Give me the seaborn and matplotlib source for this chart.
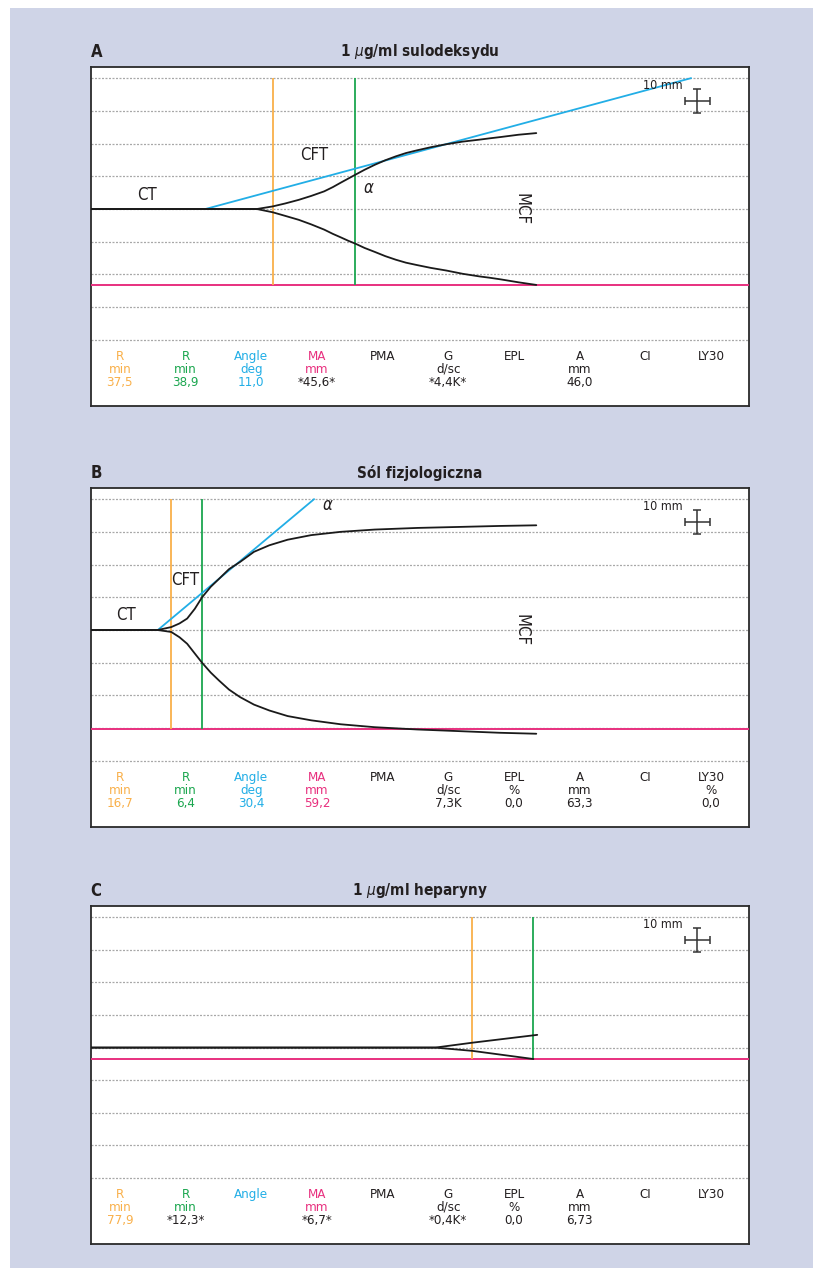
import numpy as np
import matplotlib
matplotlib.use("Agg")
import matplotlib.pyplot as plt
import seaborn as sns
from matplotlib.patches import Rectangle

sns.set_style("white")
plt.rcParams['font.family'] = ['DejaVu Sans']
plt.rcParams['font.stretch'] = 'condensed'

# ---- data (time in min, amplitude in mm) ----
titles = ["1 $\\mu$g/ml sulodeksydu", "Sól fizjologiczna", "1 $\\mu$g/ml heparyny"]
letters = ["A", "B", "C"]

# upper / lower trace branches
a_up_t = [0, 34.6, 37.9, 40.5, 43.3, 45.9, 48.6, 50.4, 52.1, 53.6, 55.1, 57.0, 59.1,
          61.3, 63.5, 65.6, 67.8, 70.8, 74.0, 77.4, 80.9, 83.0, 85.3, 89.0, 92.7]
a_up_y = [0, 0, 0.8, 1.7, 2.8, 4.0, 5.4, 6.7, 8.1, 9.3, 10.5, 12.0, 13.5,
          14.9, 16.1, 17.1, 17.9, 18.9, 19.8, 20.6, 21.2, 21.6, 22.0, 22.7, 23.2]
a_lo_t = a_up_t
a_lo_y = [0, 0, -1.0, -2.1, -3.3, -4.7, -6.3, -7.6, -8.7, -9.7, -10.6, -11.9, -13.1,
          -14.4, -15.5, -16.4, -17.1, -18.0, -18.8, -19.8, -20.6, -21.0, -21.5, -22.4, -23.2]

b_up_t = [0, 14.0, 16.8, 18.5, 20.1, 21.7, 23.2, 25.0, 26.7, 28.8, 31.1, 34.0, 37.2,
          41.0, 45.9, 52.0, 59.1, 68.0, 76.6, 85.0, 92.7]
b_up_y = [0, 0, 0.9, 2.0, 3.5, 6.5, 10.0, 13.2, 15.6, 18.6, 20.8, 23.9, 25.9,
          27.6, 29.0, 30.0, 30.7, 31.2, 31.5, 31.8, 32.0]
b_lo_t = b_up_t
b_lo_y = [0, 0, -0.6, -2.2, -4.2, -7.2, -10.0, -13.0, -15.4, -18.2, -20.5, -22.8, -24.6,
          -26.3, -27.6, -28.8, -29.7, -30.4, -30.9, -31.4, -31.7]

c_up_t = [0, 71.7, 79.4, 92.9]
c_up_y = [0, 0, 1.5, 3.9]
c_lo_t = [0, 71.7, 79.4, 92.1]
c_lo_y = [0, 0, -1.0, -3.5]

r_line = [37.9, 16.8, 79.4]      # orange marker
k_line = [55.1, 23.2, 92.1]      # green marker
ma_level = [-23.2, -30.2, -3.5]  # pink line
angle_t = [[23.9, 124.9], [14.0, 46.5], None]
angle_y = [[0, 40], [0, 40], None]

# label positions for CT / CFT / alpha
ct_pos = [(11.8, 4.4), (7.4, 4.5), None]
cft_pos = [(46.5, 16.4), (19.7, 15.2), None]
alpha_pos = [(57.8, 6.4), (49.4, 38.1), None]
show_mcf = [True, True, False]

# results table
names = ["R", "R", "Angle", "MA", "PMA", "G", "EPL", "A", "CI", "LY30"]
units_a = ["min", "min", "deg", "mm", "", "d/sc", "", "mm", "", ""]
units_b = ["min", "min", "deg", "mm", "", "d/sc", "%", "mm", "", "%"]
units_c = ["min", "min", "", "mm", "", "d/sc", "%", "mm", "", ""]
vals_a = ["37,5", "38,9", "11,0", "*45,6*", "", "*4,4K*", "", "46,0", "", ""]
vals_b = ["16,7", "6,4", "30,4", "59,2", "", "7,3K", "0,0", "63,3", "", "0,0"]
vals_c = ["77,9", "*12,3*", "", "*6,7*", "", "*0,4K*", "0,0", "6,73", "", ""]

ORANGE = "#F9B04A"
GREEN = "#1BA64F"
CYAN = "#22AEE6"
PINK = "#E8307F"
DARK = "#231F20"
col_colors = [ORANGE, GREEN, CYAN, PINK] + [DARK] * 6

traces = [(a_up_t, a_up_y, a_lo_t, a_lo_y),
          (b_up_t, b_up_y, b_lo_t, b_lo_y),
          (c_up_t, c_up_y, c_lo_t, c_lo_y)]
units = [units_a, units_b, units_c]
vals = [vals_a, vals_b, vals_c]

fig = plt.figure(figsize=(8.13, 12.68), dpi=100)
fig.patch.set_facecolor("white")
fig.patches.append(Rectangle((10 / 813, 0), 1, (1268 - 8) / 1268,
                             transform=fig.transFigure, facecolor="#CFD4E7",
                             edgecolor="none", zorder=-10))

# panel boxes in pixels: top, bottom
boxes = [(67, 406), (488, 827), (906, 1244)]
left_px, right_px = 90.5, 749.3

for i in range(3):
    top, bot = boxes[i]
    ax = fig.add_axes([left_px / 813, (1268 - bot) / 1268,
                       (right_px - left_px) / 813, (bot - top) / 1268])
    ax.set_facecolor("white")
    ax.set_xlim(0, 137)
    ax.set_ylim(-60.2, 43.4)
    ax.set_xticks([])
    ax.set_yticks([])
    for s in ax.spines.values():
        s.set_color("#2a2a2a")
        s.set_linewidth(1.3)

    for g in range(-40, 41, 10):
        ax.axhline(g, color="#a8a8a8", lw=0.9, ls=(0, (1.6, 1.2)), zorder=1)

    ax.axhline(ma_level[i], color=PINK, lw=1.4, zorder=3)
    ax.vlines(r_line[i], ma_level[i], 40, color=ORANGE, lw=1.3, zorder=3)
    ax.vlines(k_line[i], ma_level[i], 40, color=GREEN, lw=1.3, zorder=3)

    if angle_t[i] is not None:
        sns.lineplot(x=angle_t[i], y=angle_y[i], ax=ax, color=CYAN, lw=1.3, zorder=4)

    up_t, up_y, lo_t, lo_y = traces[i]
    sns.lineplot(x=up_t, y=up_y, ax=ax, color="#1a1a1a", lw=1.3, sort=False, zorder=5)
    sns.lineplot(x=lo_t, y=lo_y, ax=ax, color="#1a1a1a", lw=1.3, sort=False, zorder=5)

    if ct_pos[i] is not None:
        ax.text(*ct_pos[i], "CT", fontsize=12, ha="center", va="center", color=DARK)
        ax.text(*cft_pos[i], "CFT", fontsize=12, ha="center", va="center", color=DARK)
        ax.text(*alpha_pos[i], "$\\alpha$", fontsize=12, ha="center", va="center", color=DARK)
    if show_mcf[i]:
        ax.text(89.7, 0, "MCF", fontsize=12, rotation=270, ha="center", va="center", color=DARK)

    # scale marker
    ax.text(119.0, 37.6, "10 mm", fontsize=9, ha="center", va="center", color=DARK, zorder=6)
    ax.errorbar([126.2], [33.1], xerr=2.6, yerr=3.7, color="#333333", lw=1.1,
                capsize=3, capthick=1.1, zorder=6)

    # results table
    for j in range(len(names)):
        x = 6.1 + 13.66 * j
        c = col_colors[j]
        ax.text(x, -45.1, names[j], fontsize=9.5, ha="center", va="center", color=c)
        ax.text(x, -49.0, units[i][j], fontsize=9.5, ha="center", va="center", color=c)
        v = vals[i][j]
        vc = DARK if v.startswith("*") else c
        ax.text(x, -52.9, v, fontsize=9.5, ha="center", va="center", color=vc)

    ax.text(0.0, 1.045, letters[i], transform=ax.transAxes, fontsize=12,
            fontweight="bold", ha="left", va="center", color=DARK)
    ax.text(0.5, 1.045, titles[i], transform=ax.transAxes, fontsize=11,
            fontweight="bold", ha="center", va="center", color=DARK)

fig.savefig("out.png", dpi=100, facecolor=fig.get_facecolor())
